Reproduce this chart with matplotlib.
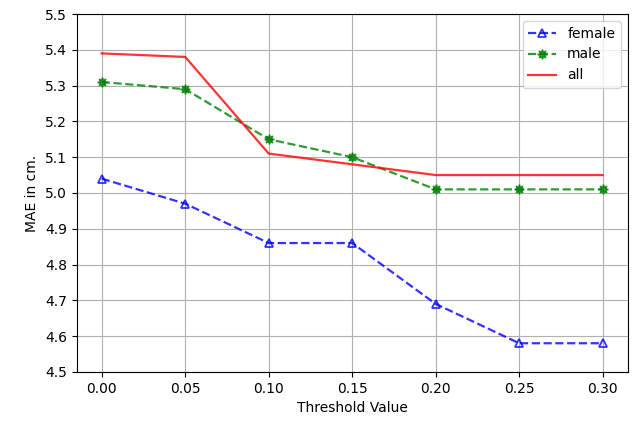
import numpy as np
import matplotlib
matplotlib.use("Agg")
import matplotlib.pyplot as plt

# threshold values and MAE per group
thresholds = [0.00, 0.05, 0.10, 0.15, 0.20, 0.25, 0.30]
mae_female = [5.04, 4.97, 4.86, 4.86, 4.69, 4.58, 4.58]
mae_male = [5.31, 5.29, 5.15, 5.10, 5.01, 5.01, 5.01]
mae_all = [5.39, 5.38, 5.11, 5.08, 5.05, 5.05, 5.05]

fig, ax = plt.subplots(figsize=(6.34, 4.25), dpi=100)
fig.subplots_adjust(left=0.121, right=0.990, top=0.967, bottom=0.125)

ax.plot(thresholds, mae_female, "b--", marker="^", markerfacecolor="none",
        markersize=6, markeredgewidth=1.3, linewidth=1.6, alpha=0.8, label="female")
ax.plot(thresholds, mae_male, "g--", marker=(8, 1, 0), markersize=7,
        linewidth=1.6, alpha=0.8, label="male")
ax.plot(thresholds, mae_all, "r-", linewidth=1.6, alpha=0.8, label="all")

ax.set_ylim(4.5, 5.5)
ax.set_yticks(np.arange(4.5, 5.51, 0.1))
ax.set_xticks(thresholds)
ax.set_xticklabels(["%.2f" % t for t in thresholds])
ax.grid(True)
ax.set_xlabel("Threshold Value")
ax.set_ylabel("MAE in cm.")
ax.legend(loc="upper right")

plt.savefig("out.png", dpi=100)
